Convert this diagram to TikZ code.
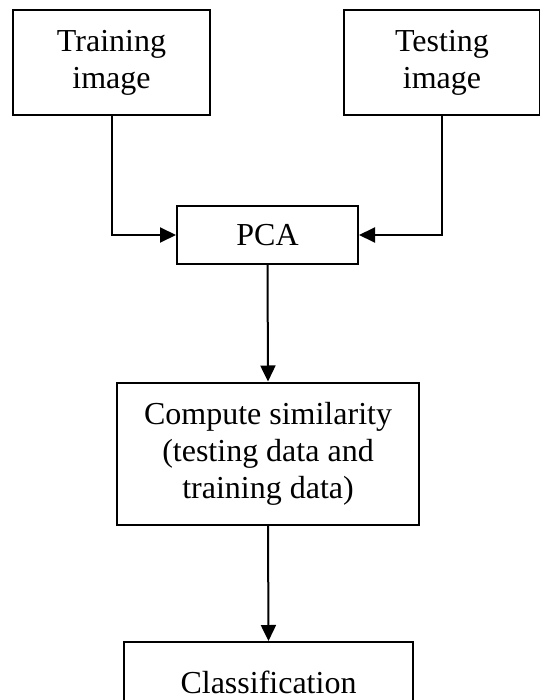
\documentclass[tikz,border=0pt]{standalone}
\usepackage{fontspec}
\setmainfont{Liberation Serif}
\usetikzlibrary{arrows.meta}
\begin{document}
\begin{tikzpicture}[x=1pt,y=-1pt,
  box/.style={draw=black,line width=2pt,fill=white,inner sep=0pt,align=center,
    font=\fontsize{32}{37}\selectfont},
  arr/.style={draw=black,line width=2pt,-{Triangle[length=16pt,width=15pt]}}]
\useasboundingbox (0,0) rectangle (539,700);
\node[box,minimum width=197pt,minimum height=105pt] (train) at (111.5,62.5) {Training\\image};
\node[box,minimum width=196pt,minimum height=105pt] (test) at (442,62.5) {Testing\\image};
\node[box,minimum width=181pt,minimum height=58pt] (pca) at (267.5,235) {PCA};
\node[box,minimum width=302pt,minimum height=142pt] (comp) at (268,453.5) {Compute similarity\\(testing data and\\training data)};
\node[box,minimum width=289pt,minimum height=80pt] (cls) at (268.5,682) {Classification};
\draw[arr] (train.south) |- (pca.west);
\draw[arr] (test.south) |- (pca.east);
\draw[arr] (pca.south) -- (comp.north);
\draw[arr] (comp.south) -- (cls.north);
\end{tikzpicture}
\end{document}
